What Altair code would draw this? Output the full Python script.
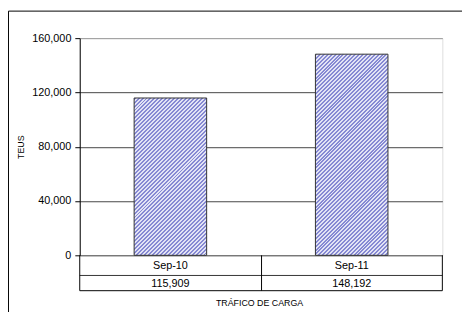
import altair as alt
import pandas as pd

categories = ["Sep-10", "Sep-11"]
values = [115909, 148192]
value_labels = ["115,909", "148,192"]
y_ticks = [0, 40000, 80000, 120000, 160000]

df = pd.DataFrame({"cat": categories, "val": values, "lab": value_labels})

W, H = 369, 221
YMAX = 160000
FONT = "Liberation Sans"
PAD_IN, PAD_OUT = 0.6, 0.3

xscale = alt.Scale(domain=categories, paddingInner=PAD_IN, paddingOuter=PAD_OUT)
yscale = alt.Scale(domain=[0, YMAX], nice=False)

xenc = alt.X("cat:N", scale=xscale, axis=None, sort=categories)
yenc = alt.Y("val:Q", scale=yscale,
             axis=alt.Axis(values=y_ticks, format=",.0f", title="TEUS",
                           grid=True,
                           gridColor=alt.condition(alt.datum.value >= YMAX, alt.value("#999999"), alt.value("#444444")),
                           gridWidth=1,
                           domainColor="#000000", tickColor="#000000",
                           tickSize=5, labelPadding=4,
                           labelFont=FONT, labelFontSize=11, labelColor="#000000",
                           titleFont=FONT, titleFontSize=9, titleFontWeight="normal",
                           titleColor="#000000", titlePadding=6))

# hatch fill (diagonal stripes) made from a linear gradient in bbox units
step = W / (len(categories) - PAD_IN + 2 * PAD_OUT)
bw = step * (1 - PAD_IN)
BLUE, LIGHT = "#8689d3", "#e2e3f5"
PERIOD = 4.0


def hatch(v):
    h = v / YMAX * H
    w = bw
    k = (w + h) / (w * w + h * h)
    n = max(1, int(round((w + h) / PERIOD)))
    stops = []
    for i in range(n):
        a, m, b = i / n, (i + 0.5) / n, (i + 1) / n
        stops += [alt.GradientStop(color=BLUE, offset=a), alt.GradientStop(color=BLUE, offset=m),
                  alt.GradientStop(color=LIGHT, offset=m), alt.GradientStop(color=LIGHT, offset=b)]
    return alt.LinearGradient(gradient="linear", stops=stops, x1=0, y1=0, x2=w * k, y2=h * k)


bar_layers = []
for c, v in zip(categories, values):
    bar_layers.append(
        alt.Chart(df).transform_filter(alt.datum.cat == c).mark_bar(
            fill=hatch(v), stroke="#333333", strokeWidth=1
        ).encode(x=xenc, y=yenc)
    )

cat_text = alt.Chart(df).mark_text(font=FONT, fontSize=11, color="#000000", baseline="middle").encode(
    x=xenc, y=alt.value(231.5), text="cat:N")
val_text = alt.Chart(df).mark_text(font=FONT, fontSize=11, color="#000000", baseline="middle").encode(
    x=xenc, y=alt.value(250), text="lab:N")

one = pd.DataFrame({"a": [0]})
base = alt.Chart(one)
hline1 = base.mark_rule(color="#333333", strokeWidth=1).encode(x=alt.value(0), x2=alt.value(W), y=alt.value(241.5))
hline2 = base.mark_rule(color="#000000", strokeWidth=1).encode(x=alt.value(0), x2=alt.value(W), y=alt.value(257))
vl = base.mark_rule(color="#000000", strokeWidth=1).encode(x=alt.value(0), y=alt.value(221), y2=alt.value(257))
vm = base.mark_rule(color="#000000", strokeWidth=1).encode(x=alt.value(185), y=alt.value(221), y2=alt.value(257))
vr = base.mark_rule(color="#000000", strokeWidth=1).encode(x=alt.value(W), y=alt.value(221), y2=alt.value(257))
title = base.mark_text(font=FONT, fontSize=9, color="#000000", baseline="middle").encode(
    x=alt.value(183), y=alt.value(270), text=alt.value("TRÁFICO DE CARGA"))
outer = base.mark_rect(fill=None, stroke="#000000", strokeWidth=1).encode(
    x=alt.value(-72.5), x2=alt.value(420), y=alt.value(-27.5), y2=alt.value(300))

chart = alt.layer(*bar_layers, cat_text, val_text, hline1, hline2, vl, vm, vr, title, outer).properties(
    width=W, height=H,
    padding={"left": 73, "top": 28, "right": 20, "bottom": 55},
    autosize=alt.AutoSizeParams(type="none"),
).configure_view(stroke="#999999", strokeWidth=1).configure(background="#ffffff")

chart.save("out.html", embed_options={"renderer": "svg", "actions": False})
